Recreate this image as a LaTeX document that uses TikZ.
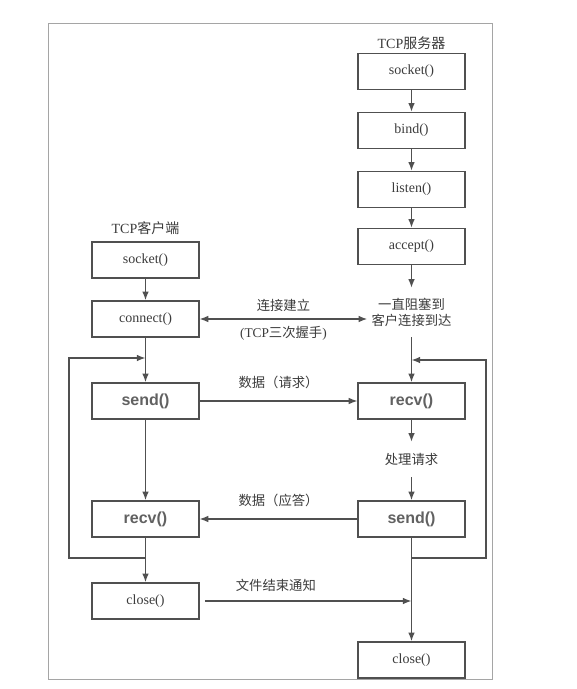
\documentclass[tikz,border=0pt]{standalone}
\usepackage{fontspec}
\setmainfont{Liberation Serif}
\newfontfamily\cjk{Noto Sans CJK SC}
\newfontfamily\fnsans{Liberation Sans}
\usepackage{tikz}
\usetikzlibrary{arrows.meta}
\usepackage{xcolor}
\definecolor{linegray}{RGB}{80,80,80}
\definecolor{textgray}{RGB}{60,60,60}
\definecolor{framegray}{RGB}{165,165,165}

\tikzset{
  fnbox/.style={draw=linegray, line width=1.2pt, minimum width=80pt, minimum height=27pt, text=textgray, font=\fontsize{10.5}{12}\selectfont},
  hotbox/.style={fnbox, font=\fnsans\bfseries\fontsize{12}{14}\selectfont, text=linegray!90},
  note/.style={text=textgray, inner ysep=0pt, inner xsep=3pt, align=center},
  flow/.style={draw=linegray, line width=1pt, -{Latex[length=6.5pt,width=5pt]}},
  link/.style={draw=linegray, line width=1pt}
}

\begin{document}
\begin{tikzpicture}[x=0.75pt, y=-0.75pt]
    \useasboundingbox (0,0) rectangle (576,689);
    \fill[white] (0,0) rectangle (576,689);
    \draw[framegray, line width=0.6pt] (48,23) rectangle (492,679);

    % Server side
    \node[text=textgray, font=\fontsize{10.5}{12}\selectfont] (srvtitle) at (411.5,43) {TCP{\cjk 服务器}};
    \node[fnbox] (ssocket) at (411.5,71.5) {socket()};
    \node[fnbox] (sbind) at (411.5,130.5) {bind()};
    \node[fnbox] (slisten) at (411.5,189.5) {listen()};
    \node[fnbox] (saccept) at (411.5,246.5) {accept()};
    \node[note, minimum height=36.75pt, font=\cjk] (swait) at (411.5,312.5) {一直阻塞到\\客户连接到达};
    \node[hotbox] (srecv) at (411.5,401) {recv()};
    \node[note, minimum height=26.25pt, font=\cjk] (sproc) at (411.5,459.5) {处理请求};
    \node[hotbox] (ssend) at (411.5,519) {send()};
    \node[fnbox] (sclose) at (411.5,660) {close()};

    % Client side
    \node[text=textgray, font=\fontsize{10.5}{12}\selectfont] (clititle) at (145.5,228) {TCP{\cjk 客户端}};
    \node[fnbox] (csocket) at (145.5,260) {socket()};
    \node[fnbox] (cconnect) at (145.5,319) {connect()};
    \node[hotbox] (csend) at (145.5,401) {send()};
    \node[hotbox] (crecv) at (145.5,519) {recv()};
    \node[fnbox] (cclose) at (145.5,601) {close()};

    % Loop corners and joins
    \coordinate (sjoin) at (411.5,558);
    \coordinate (sloop) at (486,558);
    \coordinate (sin) at (411.5,360);
    \coordinate (sfin) at (411.5,600);
    \coordinate (cjoin) at (145.5,558);
    \coordinate (cloop) at (69,558);
    \coordinate (cin) at (145.5,358);

    % Server flow
    \draw[flow] (ssocket) -- (sbind);
    \draw[flow] (sbind) -- (slisten);
    \draw[flow] (slisten) -- (saccept);
    \draw[flow] (saccept) -- (swait);
    \draw[flow] (swait) -- (srecv);
    \draw[flow] (srecv) -- (sproc);
    \draw[flow] (sproc) -- (ssend);
    \draw[flow] (ssend) -- (sclose);
    \draw[flow] (sjoin) -- (sloop) |- (sin);

    % Client flow
    \draw[flow] (csocket) -- (cconnect);
    \draw[flow] (cconnect) -- (csend);
    \draw[flow] (csend) -- (crecv);
    \draw[flow] (crecv) -- (cclose);
    \draw[flow] (cjoin) -- (cloop) |- (cin);

    % Messages between the two
    \draw[flow, {Latex[length=6.5pt,width=5pt]}-{Latex[length=6.5pt,width=5pt]}] (cconnect.east) -- (cconnect.east -| swait.west)
        node[midway, above=2pt, text=textgray, font=\cjk] (lblconn) {连接建立}
        node[midway, below=2pt, text=textgray] (lblshake) {(TCP{\cjk 三次握手})};
    \draw[flow] (csend) -- (srecv)
        node[midway, above=5pt, text=textgray, font=\cjk] (lblreq) {数据（请求）};
    \draw[flow] (ssend) -- (crecv)
        node[midway, above=5pt, text=textgray, font=\cjk] (lblresp) {数据（应答）};
    \draw[flow, shorten <=4pt] (cclose.east) -- (cclose.east -| sfin)
        node[pos=0.36, above=3pt, text=textgray, font=\cjk] (lbleof) {文件结束通知};
\end{tikzpicture}
\end{document}
